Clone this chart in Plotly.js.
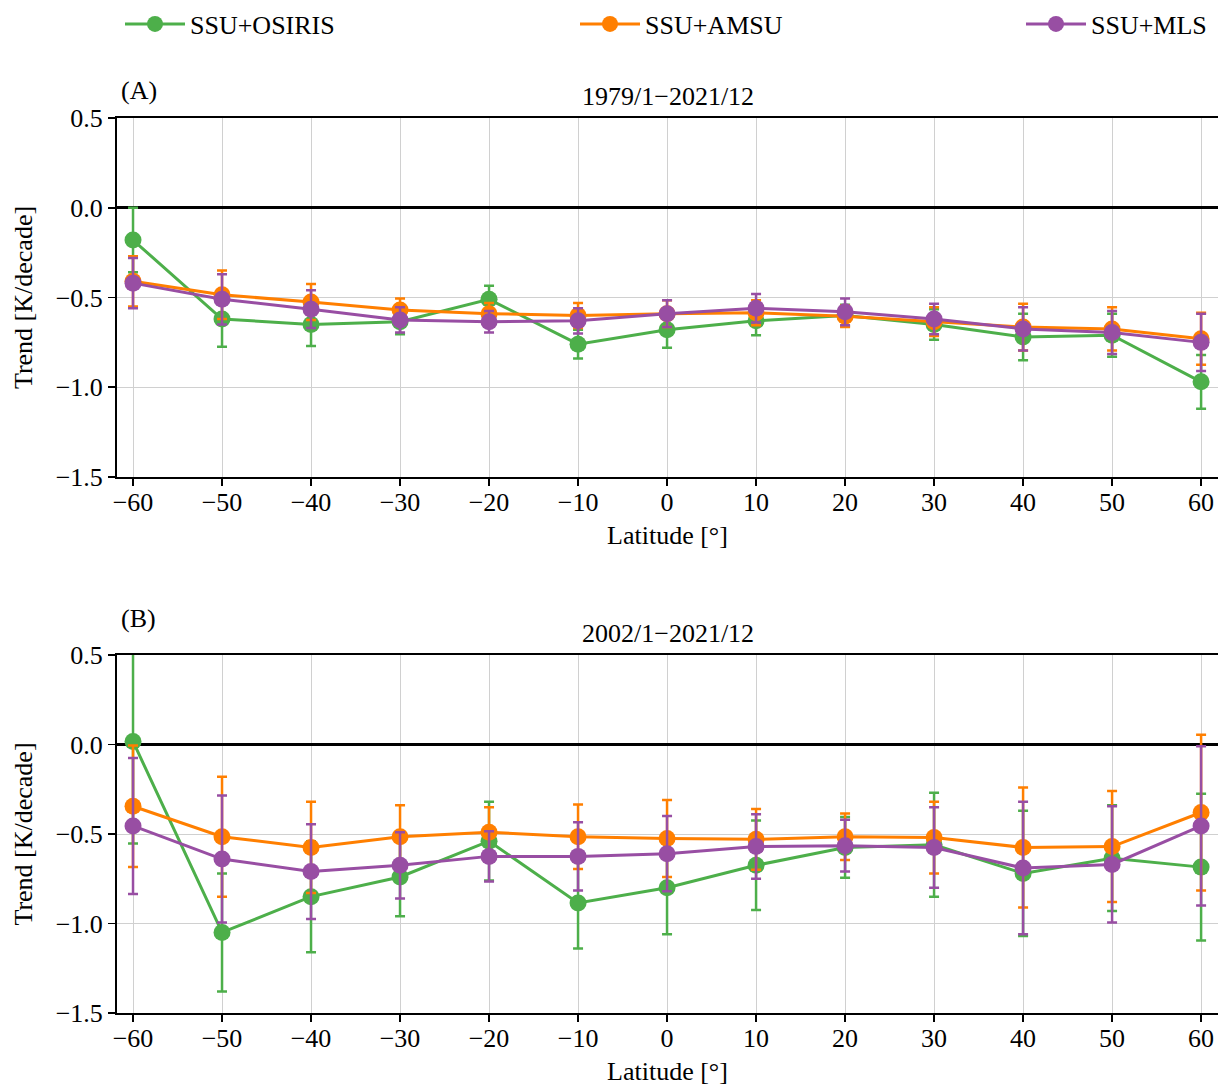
<!DOCTYPE html>
<html>
<head>
<meta charset="utf-8">
<script src="https://cdn.plot.ly/plotly-3.0.1.min.js"></script>
<style>html,body{margin:0;padding:0;background:#fff;}#chart{width:1219px;height:1088px;}</style>
</head>
<body>
<div id="chart"></div>
<script>
// ---- data ----
const latitude = [-60, -50, -40, -30, -20, -10, 0, 10, 20, 30, 40, 50, 60];
const seriesNames = ["SSU+OSIRIS", "SSU+AMSU", "SSU+MLS"];
const panelTitles = ["1979/1\u22122021/12", "2002/1\u22122021/12"];
const panelLabels = ["(A)", "(B)"];

// Panel A: 1979/1-2021/12
const osirisA    = [-0.18, -0.62, -0.65, -0.635, -0.51, -0.76, -0.68, -0.63, -0.60, -0.65, -0.72, -0.71, -0.97];
const osirisAErr = [0.18, 0.155, 0.12, 0.07, 0.075, 0.08, 0.10, 0.08, 0.06, 0.085, 0.13, 0.12, 0.15];
const amsuA      = [-0.41, -0.485, -0.525, -0.57, -0.59, -0.60, -0.59, -0.585, -0.605, -0.635, -0.665, -0.675, -0.73];
const amsuAErr   = [0.14, 0.135, 0.10, 0.065, 0.06, 0.07, 0.075, 0.07, 0.06, 0.08, 0.13, 0.12, 0.145];
const mlsA       = [-0.42, -0.51, -0.565, -0.625, -0.635, -0.63, -0.59, -0.56, -0.58, -0.62, -0.675, -0.695, -0.75];
const mlsAErr    = [0.14, 0.14, 0.105, 0.07, 0.06, 0.07, 0.075, 0.08, 0.075, 0.085, 0.12, 0.12, 0.16];

// Panel B: 2002/1-2021/12
const osirisB    = [0.017, -1.05, -0.85, -0.74, -0.54, -0.885, -0.80, -0.675, -0.575, -0.56, -0.72, -0.635, -0.685];
const osirisBErr = [0.57, 0.33, 0.31, 0.22, 0.22, 0.255, 0.26, 0.25, 0.17, 0.29, 0.35, 0.295, 0.41];
const amsuB      = [-0.345, -0.515, -0.575, -0.515, -0.49, -0.515, -0.525, -0.53, -0.515, -0.52, -0.575, -0.57, -0.38];
const amsuBErr   = [0.34, 0.335, 0.255, 0.175, 0.14, 0.18, 0.215, 0.17, 0.13, 0.2, 0.335, 0.31, 0.435];
const mlsB       = [-0.455, -0.64, -0.71, -0.675, -0.625, -0.625, -0.61, -0.57, -0.565, -0.575, -0.69, -0.67, -0.455];
const mlsBErr    = [0.38, 0.355, 0.265, 0.185, 0.14, 0.19, 0.21, 0.18, 0.145, 0.225, 0.37, 0.325, 0.445];

const xTickVals = [-60, -50, -40, -30, -20, -10, 0, 10, 20, 30, 40, 50, 60];
const yTickVals = [-1.5, -1.0, -0.5, 0.0, 0.5];

// ---- styling ----
const colors = ["#4daf4a", "#ff7f00", "#984ea3"];
const FONT = "'Liberation Serif', 'Times New Roman', serif";
const FS = 26;

function mk(name, x, y, err, color, xa, ya, showLeg, legendId) {
  return {
    type: "scatter", mode: "lines+markers", name: name,
    x: x, y: y, xaxis: xa, yaxis: ya,
    line: {color: color, width: 3},
    marker: {color: color, size: 17},
    error_y: {type: "data", array: err, visible: true, color: color, thickness: 2.5, width: 5},
    showlegend: showLeg, legend: legendId, legendgroup: name
  };
}

const panels = [
  [osirisA, osirisAErr, amsuA, amsuAErr, mlsA, mlsAErr],
  [osirisB, osirisBErr, amsuB, amsuBErr, mlsB, mlsBErr]
];
const legendIds = ["legend", "legend2", "legend3"];
const traces = [];
panels.forEach((p, pi) => {
  const xa = pi === 0 ? "x" : "x2";
  const ya = pi === 0 ? "y" : "y2";
  for (let s = 0; s < 3; s++) {
    traces.push(mk(seriesNames[s], latitude, p[2 * s], p[2 * s + 1], colors[s], xa, ya, pi === 0, legendIds[s]));
  }
});

function xAxis(anchor) {
  return {
    anchor: anchor, range: [-61.8, 61.9],
    tickvals: xTickVals, ticks: "outside", ticklen: 7, tickwidth: 1.5, tickcolor: "#000",
    ticklabelstandoff: -6,
    showline: true, linecolor: "#000", linewidth: 2, mirror: true,
    showgrid: true, gridcolor: "#d0d0d0", gridwidth: 1, zeroline: false,
    tickfont: {family: FONT, size: FS, color: "#000"},
    title: {text: "Latitude [\u00b0]", font: {family: FONT, size: FS, color: "#000"}, standoff: 10}
  };
}
function yAxis(anchor, domain) {
  return {
    anchor: anchor, domain: domain, range: [-1.5, 0.5],
    tickvals: yTickVals, tickformat: ".1f", ticks: "outside", ticklen: 7, tickwidth: 1.5, tickcolor: "#000",
    showline: true, linecolor: "#000", linewidth: 2,
    showgrid: true, gridcolor: "#d0d0d0", gridwidth: 1,
    zeroline: true, zerolinecolor: "#000", zerolinewidth: 3,
    tickfont: {family: FONT, size: FS, color: "#000"},
    title: {text: "Trend [K/decade]", font: {family: FONT, size: FS, color: "#000"}, standoff: 16}
  };
}

const legendBase = {
  orientation: "h", xref: "container", yref: "container", yanchor: "middle", xanchor: "left",
  y: 1 - 24 / 1088, font: {family: FONT, size: FS, color: "#000"}, bgcolor: "rgba(0,0,0,0)", itemwidth: 60
};

const annFont = {family: FONT, size: FS, color: "#000"};
const layout = {
  width: 1219, height: 1088,
  margin: {l: 117, r: 1, t: 118, b: 75},
  paper_bgcolor: "#fff", plot_bgcolor: "#fff",
  font: {family: FONT, size: FS, color: "#000"},
  xaxis: xAxis("y"),
  yaxis: yAxis("x", [0.5989, 1]),
  xaxis2: xAxis("y2"),
  yaxis2: yAxis("x2", [0, 0.4]),
  legend: Object.assign({}, legendBase, {x: 120 / 1219}),
  legend2: Object.assign({}, legendBase, {x: 575 / 1219}),
  legend3: Object.assign({}, legendBase, {x: 1021 / 1219}),
  annotations: [
    {text: panelLabels[0], xref: "paper", yref: "paper", x: 0.002, y: (1013 - 90) / 895, xanchor: "left", yanchor: "middle", showarrow: false, font: annFont},
    {text: panelTitles[0], xref: "paper", yref: "paper", x: 0.5, y: (1013 - 97) / 895, xanchor: "center", yanchor: "middle", showarrow: false, font: annFont},
    {text: panelLabels[1], xref: "paper", yref: "paper", x: 0.002, y: (1013 - 618) / 895, xanchor: "left", yanchor: "middle", showarrow: false, font: annFont},
    {text: panelTitles[1], xref: "paper", yref: "paper", x: 0.5, y: (1013 - 633) / 895, xanchor: "center", yanchor: "middle", showarrow: false, font: annFont}
  ]
};

Plotly.newPlot("chart", traces, layout, {displayModeBar: false, staticPlot: true});
</script>
</body>
</html>
